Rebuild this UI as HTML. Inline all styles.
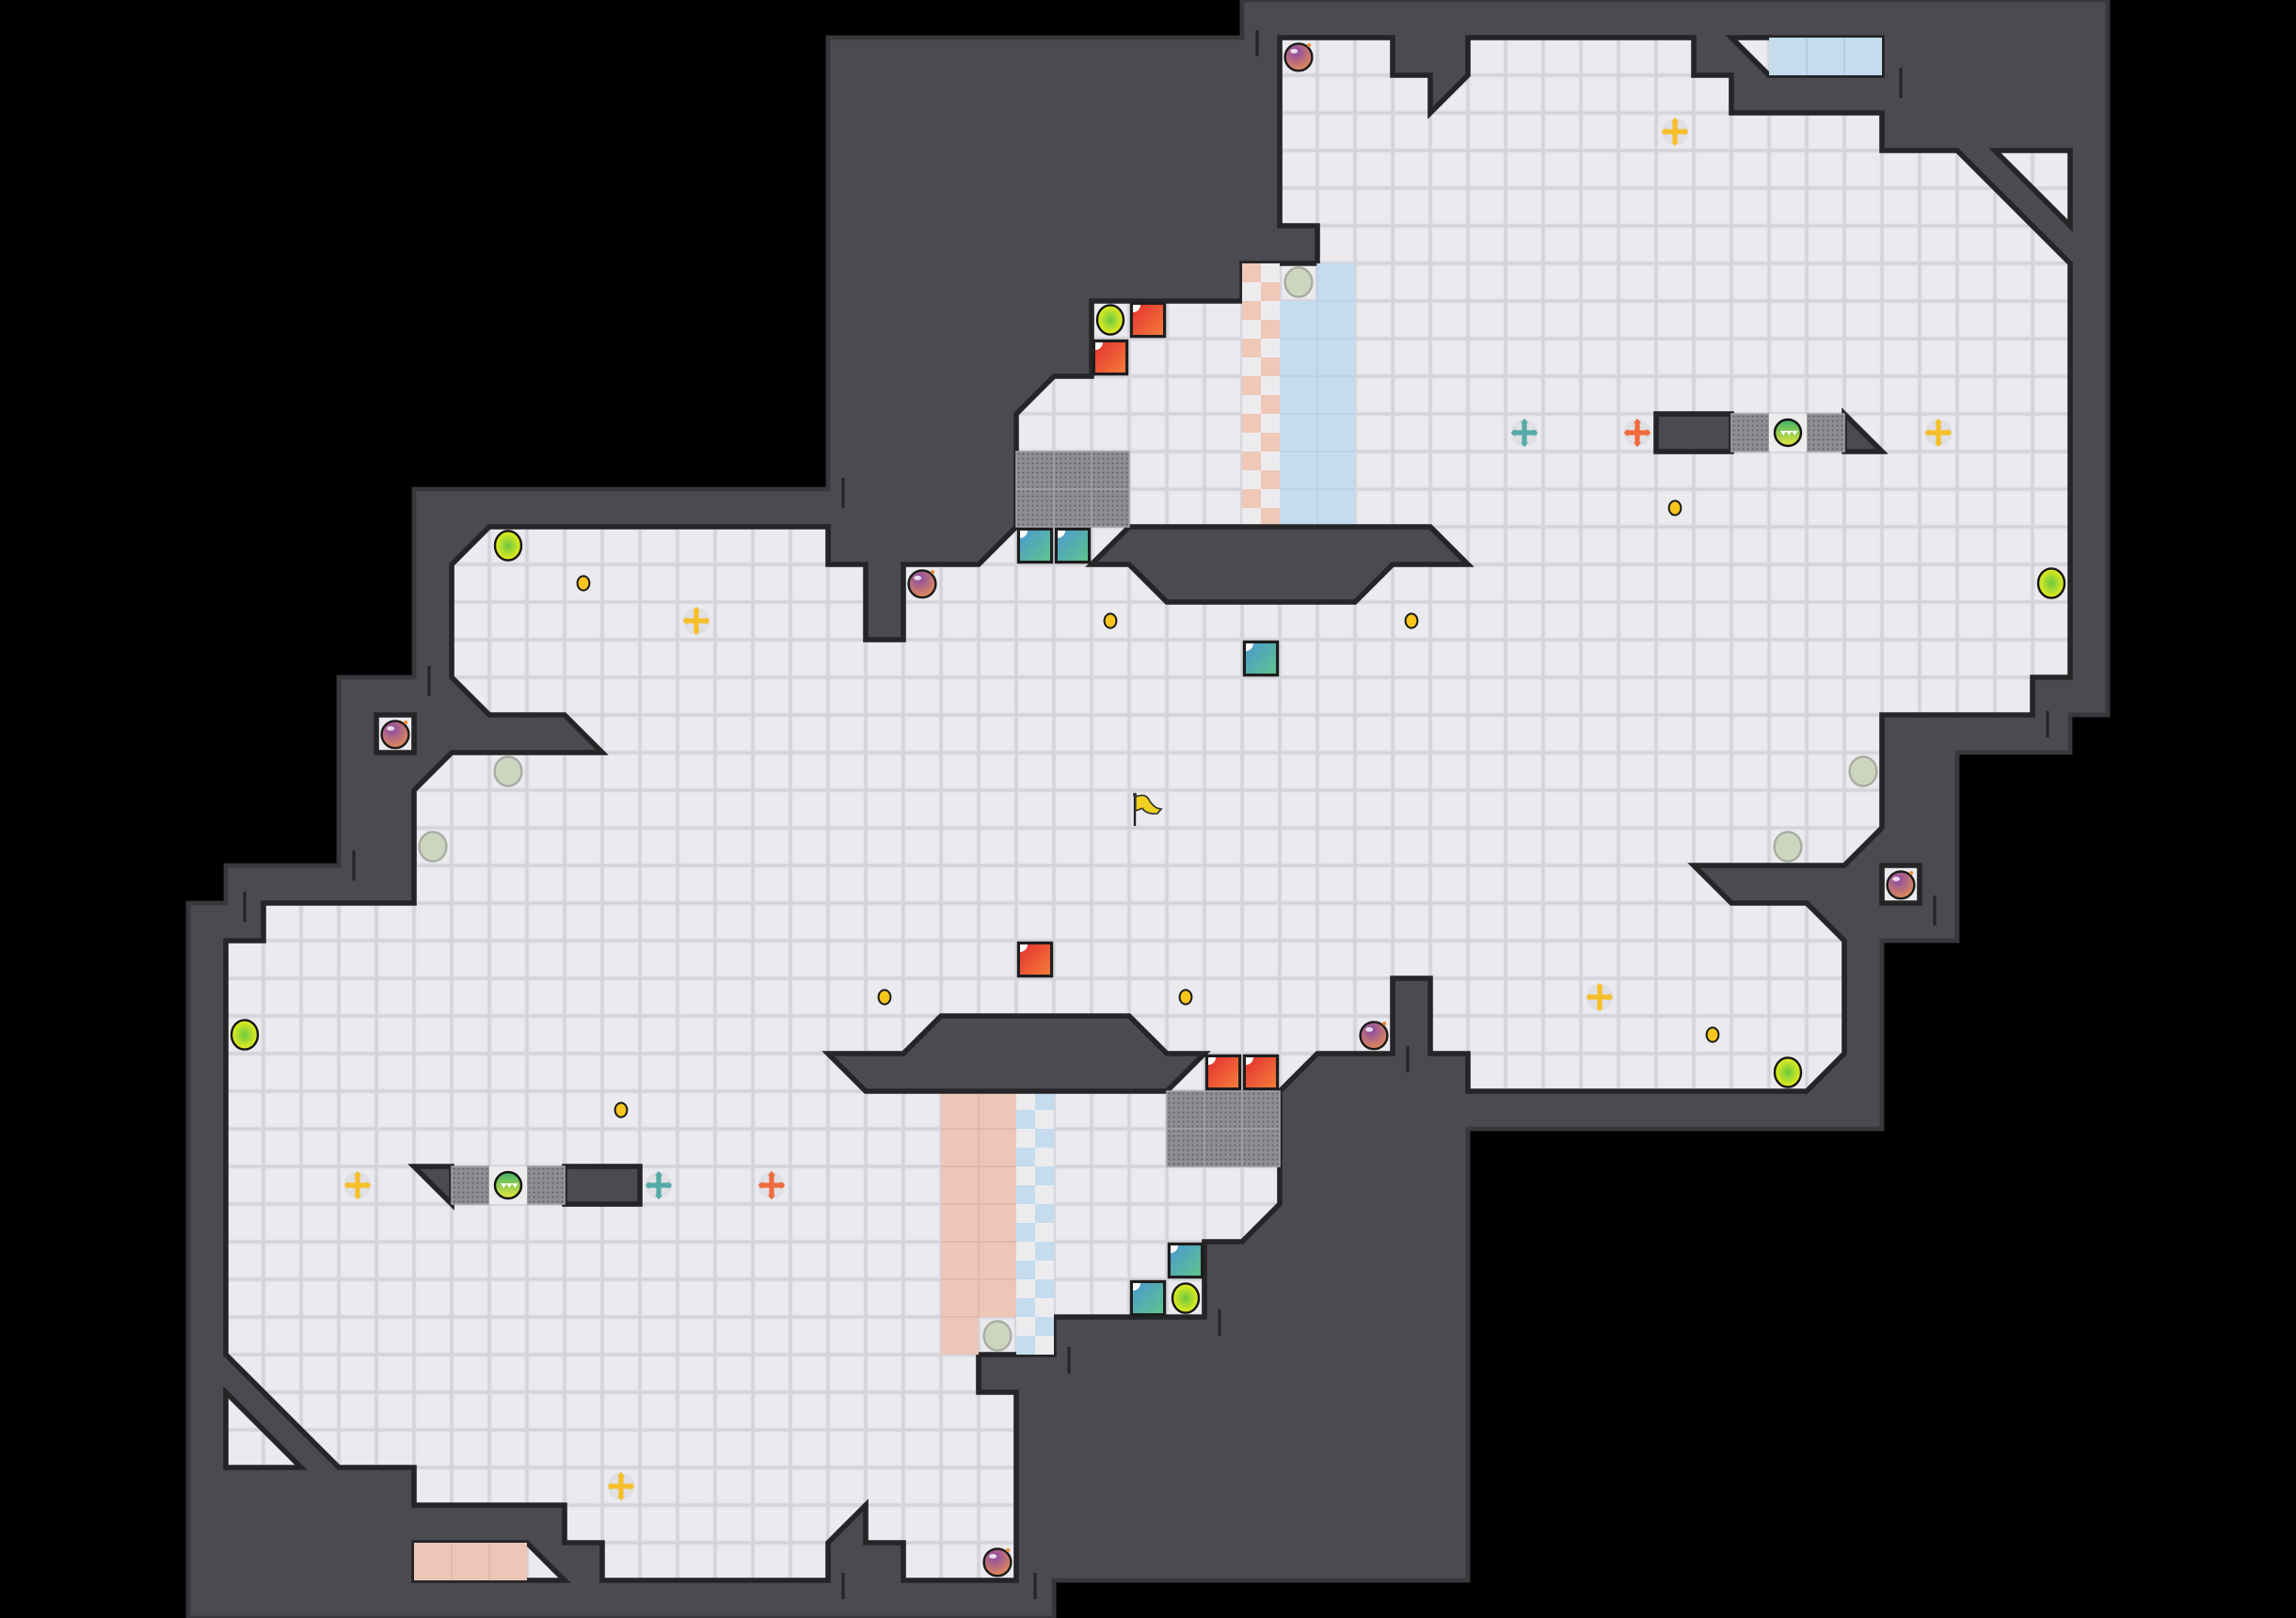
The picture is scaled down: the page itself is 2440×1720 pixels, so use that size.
<!DOCTYPE html>
<html><head><meta charset="utf-8"><style>html,body{margin:0;padding:0;background:#000}svg{display:block}</style></head>
<body>
<svg xmlns="http://www.w3.org/2000/svg" width="2440" height="1720" viewBox="0 0 61 43">
<defs>
<pattern id="tile" patternUnits="userSpaceOnUse" width="1" height="1">
<rect width="1" height="1" fill="#d3d3d9"/>
<rect x="0.04" y="0.04" width="0.92" height="0.92" fill="#e5e5ea"/>
<rect x="0.08" y="0.08" width="0.84" height="0.84" fill="#ebebef"/>
</pattern>
<pattern id="grate" patternUnits="userSpaceOnUse" width="0.125" height="0.125">
<rect width="0.125" height="0.125" fill="#8e8e92"/>
<circle cx="0.0625" cy="0.0625" r="0.025" fill="#5e5e62"/>
</pattern>
<radialGradient id="gball" cx="0.5" cy="0.5" r="0.5"><stop offset="0" stop-color="#6cc840"/><stop offset="1" stop-color="#e8ee1c"/></radialGradient>
<radialGradient id="bomb" cx="0.4" cy="0.3" r="0.7"><stop offset="0" stop-color="#8a4aa8"/><stop offset="1" stop-color="#e08a58"/></radialGradient>
<linearGradient id="red" x1="0" y1="0" x2="1" y2="1"><stop offset="0" stop-color="#e42c30"/><stop offset="1" stop-color="#f5813a"/></linearGradient>
<linearGradient id="teal" x1="0" y1="0" x2="1" y2="1"><stop offset="0" stop-color="#4a98d2"/><stop offset="1" stop-color="#60c48a"/></linearGradient>
<linearGradient id="sball" x1="0" y1="0" x2="0" y2="1"><stop offset="0" stop-color="#3cb06a"/><stop offset="1" stop-color="#e8e83a"/></linearGradient>
<g id="ball"><ellipse cx="0" cy="0" rx="0.35" ry="0.39" fill="url(#gball)" stroke="#151515" stroke-width="0.06"/></g>
<g id="gray"><ellipse cx="0" cy="0" rx="0.36" ry="0.39" fill="#cdd5bf" stroke="#a8aca4" stroke-width="0.06"/></g>
<g id="bombi"><circle cx="0" cy="0.02" r="0.36" fill="url(#bomb)" stroke="#1a1a1a" stroke-width="0.06"/><ellipse cx="-0.12" cy="-0.14" rx="0.1" ry="0.06" fill="#fff" opacity="0.8"/><circle cx="0.28" cy="-0.3" r="0.05" fill="#f08a30"/></g>
<g id="coin"><ellipse cx="0" cy="0" rx="0.16" ry="0.19" fill="#f7c51c" stroke="#1a1a1a" stroke-width="0.05"/></g>
<g id="redb"><rect x="0.06" y="0.06" width="0.88" height="0.88" fill="url(#red)" stroke="#1e1e1e" stroke-width="0.08"/><path d="M0.1 0.1 H0.3 A0.2 0.2 0 0 1 0.1 0.3 Z" fill="#fff"/></g>
<g id="tealb"><rect x="0.06" y="0.06" width="0.88" height="0.88" fill="url(#teal)" stroke="#1e1e1e" stroke-width="0.08"/><path d="M0.1 0.1 H0.3 A0.2 0.2 0 0 1 0.1 0.3 Z" fill="#fff"/></g>
<g id="gr"><rect x="0" y="0" width="1" height="1" fill="url(#grate)" stroke="#a0a0a4" stroke-width="0.04"/></g>
<g id="sb"><rect x="0" y="0" width="1" height="1" fill="#ececef"/><circle cx="0.5" cy="0.5" r="0.35" fill="url(#sball)" stroke="#111" stroke-width="0.06"/><path d="M0.3 0.45 l0.08 0.12 l0.08 -0.12 z M0.45 0.45 l0.08 0.12 l0.08 -0.12 z M0.6 0.45 l0.08 0.12 l0.08 -0.12z" fill="#fff"/></g>
<g id="crossY"><circle r="0.36" fill="#e0e0e4"/><path d="M-0.32 0 H0.32 M0 -0.32 V0.32" stroke="#f6bf2a" stroke-width="0.13"/><path d="M-0.36 0 l0.12 -0.1 v0.2z M0.36 0 l-0.12 -0.1 v0.2z M0 -0.38 l-0.1 0.12 h0.2z M0 0.38 l-0.1 -0.12 h0.2z" fill="#f6bf2a"/></g>
<g id="crossO"><circle r="0.36" fill="#e0e0e4"/><path d="M-0.32 0 H0.32 M0 -0.32 V0.32" stroke="#f06a3e" stroke-width="0.13"/><path d="M-0.36 0 l0.12 -0.1 v0.2z M0.36 0 l-0.12 -0.1 v0.2z M0 -0.38 l-0.1 0.12 h0.2z M0 0.38 l-0.1 -0.12 h0.2z" fill="#f06a3e"/></g>
<g id="crossT"><circle r="0.36" fill="#e0e0e4"/><path d="M-0.32 0 H0.32 M0 -0.32 V0.32" stroke="#55aaa6" stroke-width="0.13"/><path d="M-0.36 0 l0.12 -0.1 v0.2z M0.36 0 l-0.12 -0.1 v0.2z M0 -0.38 l-0.1 0.12 h0.2z M0 0.38 l-0.1 -0.12 h0.2z" fill="#55aaa6"/></g>
<pattern id="chkP" patternUnits="userSpaceOnUse" width="1" height="1"><rect width="1" height="1" fill="#ececef"/><rect width="0.5" height="0.5" fill="#efc8b8"/><rect x="0.5" y="0.5" width="0.5" height="0.5" fill="#efc8b8"/></pattern>
<pattern id="chkB" patternUnits="userSpaceOnUse" width="1" height="1"><rect width="1" height="1" fill="#ececef"/><rect x="0.5" width="0.5" height="0.5" fill="#c4dcee"/><rect y="0.5" width="0.5" height="0.5" fill="#c4dcee"/></pattern>
</defs>

<rect width="61" height="43" fill="#000"/>
<polygon points="33,0 56,0 56,19 55,19 55,20 52,20 52,25 50,25 50,30 39,30 39,42 28,42 28,43 5,43 5,24 6,24 6,23 9,23 9,18 11,18 11,13 22,13 22,1 33,1" fill="#4b4a50" stroke="#38373c" stroke-width="0.12"/>

<g fill="url(#tile)" stroke="#252528" stroke-width="0.14" stroke-linejoin="miter">
<polygon points="34,1 37,1 37,2 38,2 38,3 39,2 39,1 45,1 45,2 46,2 46,3 50,3 50,4 52,4 55,7 55,18 54,18 54,19 50,19 50,22 49,23 45,23 46,24 48,24 49,25 49,28 48,29 39,29 39,28 38,28 38,26 37,26 37,28 35,28 34,29 34,32 33,33 32,33 32,35 28,35 28,36 26,36 26,37 27,37 27,42 24,42 24,41 23,41 23,40 22,41 22,42 16,42 16,41 15,41 15,40 11,40 11,39 9,39 6,36 6,25 7,25 7,24 11,24 11,21 12,20 16,20 15,19 13,19 12,18 12,15 13,14 22,14 22,15 23,15 23,17 24,17 24,15 26,15 27,14 27,11 28,10 29,10 29,8 33,8 33,7 35,7 35,6 34,6"/>
<polygon points="46,1 50,1 50,2 47,2"/>
<polygon points="53,4 55,4 55,6"/>
<polygon points="10,19 11,19 11,20 10,20"/>
<polygon points="50,23 51,23 51,24 50,24"/>
<polygon points="6,37 8,39 6,39"/>
<polygon points="11,41 14,41 15,42 11,42"/>
</g>

<rect x="47" y="1" width="3" height="1" fill="#c4dcee"/>
<path d="M48 1V2M49 1V2" stroke="#b0c8dc" stroke-width="0.04"/>
<rect x="11" y="41" width="3" height="1" fill="#ecc6b6"/>
<path d="M12 41V42M13 41V42" stroke="#dcb6a6" stroke-width="0.04"/>
<rect x="33" y="7" width="1" height="7" fill="url(#chkP)"/>
<rect x="34" y="8" width="2" height="6" fill="#c4dcee"/>
<rect x="35" y="7" width="1" height="1" fill="#c4dcee"/>
<path d="M35 7V14M34 9H36M34 10H36M34 11H36M34 12H36M34 13H36M35 8H36" stroke="#b6cfe2" stroke-width="0.04"/>
<rect x="25" y="29" width="2" height="6" fill="#ecc6b6"/>
<rect x="25" y="35" width="1" height="1" fill="#ecc6b6"/>
<path d="M26 29V35M25 30H27M25 31H27M25 32H27M25 33H27M25 34H27M25 35H26" stroke="#dcb6a6" stroke-width="0.04"/>
<rect x="27" y="29" width="1" height="7" fill="url(#chkB)"/>

<g fill="#4b4a50" stroke="#252528" stroke-width="0.14">
<polygon points="30,14 38,14 39,15 37,15 36,16 31,16 30,15 29,15"/>
<polygon points="25,27 30,27 31,28 32,28 31,29 23,29 22,28 24,28"/>
<rect x="44" y="11" width="2" height="1"/>
<polygon points="49,11 50,12 49,12"/>
<rect x="15" y="31" width="2" height="1"/>
<polygon points="11,31 12,31 12,32"/>
</g>

<g stroke="#252528" stroke-width="0.08">
<path d="M33.4 0.8V1.5M22.4 12.7V13.5M11.4 17.7V18.5M9.4 22.6V23.4M6.5 23.7V24.5M50.5 1.8V2.6M54.4 18.9V19.6M51.4 23.8V24.6M37.4 27.8V28.5M32.4 34.8V35.5M28.4 35.8V36.5M27.5 41.8V42.5M22.4 41.8V42.5"/>
</g>

<use href="#gr" x="27" y="12"/><use href="#gr" x="28" y="12"/><use href="#gr" x="29" y="12"/>
<use href="#gr" x="27" y="13"/><use href="#gr" x="28" y="13"/><use href="#gr" x="29" y="13"/>
<use href="#gr" x="31" y="29"/><use href="#gr" x="32" y="29"/><use href="#gr" x="33" y="29"/>
<use href="#gr" x="31" y="30"/><use href="#gr" x="32" y="30"/><use href="#gr" x="33" y="30"/>
<use href="#gr" x="46" y="11"/><use href="#gr" x="48" y="11"/>
<use href="#gr" x="12" y="31"/><use href="#gr" x="14" y="31"/>
<use href="#sb" x="47" y="11"/><use href="#sb" x="13" y="31"/>

<use href="#redb" x="30" y="8"/><use href="#redb" x="29" y="9"/><use href="#redb" x="27" y="25"/>
<use href="#redb" x="32" y="28"/><use href="#redb" x="33" y="28"/>
<use href="#tealb" x="27" y="14"/><use href="#tealb" x="28" y="14"/><use href="#tealb" x="33" y="17"/>
<use href="#tealb" x="31" y="33"/><use href="#tealb" x="30" y="34"/>

<use href="#ball" x="29.5" y="8.5"/><use href="#ball" x="13.5" y="14.5"/><use href="#ball" x="54.5" y="15.5"/>
<use href="#ball" x="6.5" y="27.5"/><use href="#ball" x="47.5" y="28.5"/><use href="#ball" x="31.5" y="34.5"/>
<use href="#gray" x="34.5" y="7.5"/><use href="#gray" x="13.5" y="20.5"/><use href="#gray" x="11.5" y="22.5"/>
<use href="#gray" x="49.5" y="20.5"/><use href="#gray" x="47.5" y="22.5"/><use href="#gray" x="26.5" y="35.5"/>
<use href="#bombi" x="34.5" y="1.5"/><use href="#bombi" x="24.5" y="15.5"/><use href="#bombi" x="10.5" y="19.5"/>
<use href="#bombi" x="50.5" y="23.5"/><use href="#bombi" x="36.5" y="27.5"/><use href="#bombi" x="26.5" y="41.5"/>
<use href="#coin" x="15.5" y="15.5"/><use href="#coin" x="29.5" y="16.5"/><use href="#coin" x="37.5" y="16.5"/>
<use href="#coin" x="44.5" y="13.5"/><use href="#coin" x="23.5" y="26.5"/><use href="#coin" x="31.5" y="26.5"/>
<use href="#coin" x="45.5" y="27.5"/><use href="#coin" x="16.5" y="29.5"/>
<use href="#crossY" x="44.5" y="3.5"/><use href="#crossY" x="18.5" y="16.5"/><use href="#crossY" x="51.5" y="11.5"/>
<use href="#crossY" x="42.5" y="26.5"/><use href="#crossY" x="9.5" y="31.5"/><use href="#crossY" x="16.5" y="39.5"/>
<use href="#crossO" x="43.5" y="11.5"/><use href="#crossO" x="20.5" y="31.5"/>
<use href="#crossT" x="40.5" y="11.5"/><use href="#crossT" x="17.5" y="31.5"/>

<g transform="translate(30.45,21.5)">
<path d="M-0.3 -0.35 V0.45" stroke="#222" stroke-width="0.06"/>
<path d="M-0.28 -0.32 Q0 -0.45 0.1 -0.2 Q0.25 0 0.4 0 L0.3 0.12 Q0 0.15 -0.1 -0.02 L-0.28 0.05 Z" fill="#f0d020" stroke="#333" stroke-width="0.04"/>
<circle cx="-0.3" cy="-0.38" r="0.05" fill="#333"/>
</g>
</svg>
</body></html>
